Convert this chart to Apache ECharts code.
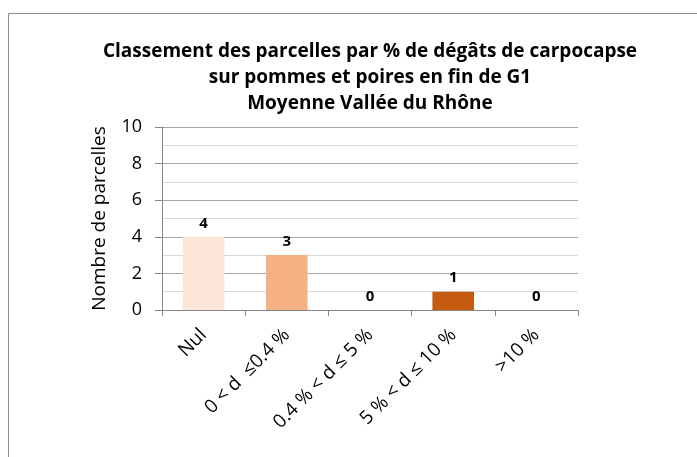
<!DOCTYPE html>
<html lang="fr">
  <head>
    <meta charset="UTF-8" />
    <title>Classement des parcelles</title>
    <script src="https://cdn.jsdelivr.net/npm/echarts@6/dist/echarts.min.js"></script>
    <style>
      * {
        margin: 0;
        padding: 0;
      }
      body {
        background: #fff;
      }
      #chart {
        width: 697px;
        height: 457px;
      }
    </style>
  </head>
  <body>
    <div id="chart"></div>
    <script>
      const categories = ["Nul", "0 < d  ≤0.4 %", "0.4 % < d ≤ 5 %", "5 % < d ≤ 10 %", ">10 %"];
      const values = [4, 3, 0, 1, 0];
      const barColors = ["#fbe5d6", "#f4b183", "#f8cbad", "#c55a11", "#843c0c"];
      const yTicks = [0, 2, 4, 6, 8, 10];

      const fontFam = "'Open Sans', 'Noto Sans', sans-serif";
      const myChart = echarts.init(document.getElementById("chart"));

      const options = {
        animation: false,
        textStyle: { fontFamily: fontFam },
        // cadre gris qui sort de l'image
        graphic: [
          {
            type: "rect",
            shape: { x: 8.5, y: 13.5, width: 800, height: 600 },
            style: { fill: "none", stroke: "#8c8c8c", lineWidth: 1 },
          },
        ],
        title: {
          text: "Classement des parcelles par % de dégâts de carpocapse\nsur pommes et poires en fin de G1\nMoyenne Vallée du Rhône",
          left: 365,
          top: 34,
          textAlign: "center",
          textStyle: {
            fontFamily: fontFam,
            fontSize: 19,
            fontWeight: "bold",
            color: "#000",
            lineHeight: 26,
          },
        },
        grid: {
          left: 162,
          right: 119,
          top: 127,
          bottom: 147,
        },
        xAxis: {
          type: "category",
          data: categories,
          axisLine: { lineStyle: { color: "#868686" } },
          axisTick: { show: true, length: 6, lineStyle: { color: "#868686" } },
          axisLabel: {
            rotate: 45,
            interval: 0,
            margin: 22,
            fontSize: 19,
            color: "#000",
            fontFamily: fontFam,
          },
        },
        yAxis: {
          type: "value",
          min: yTicks[0],
          max: yTicks[yTicks.length - 1],
          interval: 2,
          name: "Nombre de parcelles",
          nameLocation: "middle",
          nameGap: 53,
          nameTextStyle: { fontSize: 19, color: "#000", fontFamily: fontFam },
          axisLine: { show: true, lineStyle: { color: "#868686" } },
          axisTick: { show: true, length: 7, lineStyle: { color: "#868686" } },
          axisLabel: { fontSize: 18, color: "#000", margin: 20, fontFamily: fontFam },
          splitLine: { show: true, lineStyle: { color: "#a6a6a6" } },
          minorTick: { show: false, splitNumber: 2 },
          minorSplitLine: { show: true, lineStyle: { color: "#d9d9d9" } },
        },
        series: [
          {
            type: "bar",
            barWidth: "50%",
            data: values.map((v, i) => ({ value: v, itemStyle: { color: barColors[i] } })),
            label: {
              show: true,
              position: "top",
              distance: 6,
              fontSize: 15,
              fontWeight: "bold",
              color: "#000",
              fontFamily: fontFam,
            },
          },
        ],
      };
      myChart.setOption(options);
    </script>
  </body>
</html>
